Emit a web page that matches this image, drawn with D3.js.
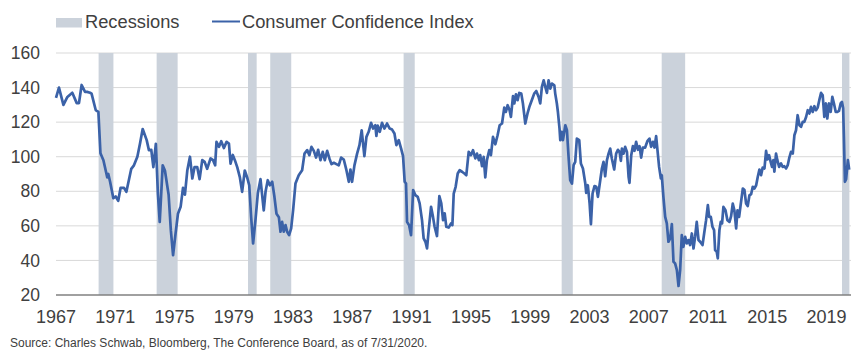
<!DOCTYPE html>
<html>
<head>
<meta charset="utf-8">
<script src="https://cdn.jsdelivr.net/npm/d3@7"></script>
<style>
  body { margin: 0; background: #fff; }
  text { font-family: "Liberation Sans", Arial, sans-serif; fill: #404040; }
</style>
</head>
<body>
<div id="chart"></div>
<script>
// settings
var svgWidth = 865;
var svgHeight = 363;
var lineColor = "#3b62a8";
var bandColor = "#cbd2db";
var gridColor = "#d9d9d9";

var margin = { top: 53, right: 14, bottom: 68, left: 56 };

// tick labels
var yTicks = [20, 40, 60, 80, 100, 120, 140, 160];
var xTicks = [1967, 1971, 1975, 1979, 1983, 1987, 1991, 1995, 1999, 2003, 2007, 2011, 2015, 2019];

// recessions, as [year, month] start and end
var recessionStarts = [[1969, 12], [1973, 11], [1980, 1], [1981, 7], [1990, 7], [2001, 3], [2007, 12], [2020, 2]];
var recessionEnds = [[1970, 11], [1975, 3], [1980, 7], [1982, 11], [1991, 3], [2001, 11], [2009, 6], [2020, 7]];

// consumer confidence index (decimal year, value)
var cciYears1 = [1967.0, 1967.2, 1967.5, 1967.77, 1968.1, 1968.4, 1968.55, 1968.73, 1968.96, 1969.1, 1969.3, 1969.4, 1969.68, 1969.86,
  1970.0, 1970.2, 1970.46, 1970.53, 1970.65, 1970.87, 1971.03, 1971.2, 1971.36, 1971.59, 1971.75, 1972.08, 1972.26, 1972.49,
  1972.67, 1972.85, 1973.12, 1973.27, 1973.43, 1973.57, 1973.74, 1973.88, 1974.0, 1974.2, 1974.35, 1974.6, 1974.75, 1974.9,
  1975.07, 1975.23, 1975.41, 1975.57, 1975.7, 1975.86, 1976.04, 1976.2, 1976.35, 1976.53, 1976.69, 1976.87, 1977.03, 1977.2,
  1977.43, 1977.6, 1977.74];
var cciValues1 = [134, 140, 130, 134.6, 137, 131, 131, 141.5, 137.5, 137.5, 137, 136.5, 127, 126,
  102, 98, 88, 90, 85.5, 76, 77, 74.5, 82, 82, 79.7, 93, 95, 100,
  107.6, 116, 109.6, 103.8, 104, 94, 107.5, 78, 62.3, 95, 92, 78, 57.5, 43,
  55.6, 67, 71, 82, 78, 92, 100, 87.4, 94, 94, 87, 98, 97, 93,
  99, 98, 95];

var cciYears2 = [1977.83, 1978.0, 1978.15, 1978.33, 1978.51, 1978.67, 1978.78, 1978.93, 1979.07, 1979.23, 1979.41, 1979.56, 1979.74,
  1979.9, 1980.04, 1980.17, 1980.3, 1980.46, 1980.62, 1980.8, 1981.02, 1981.14, 1981.29, 1981.43, 1981.59, 1981.74, 1981.88,
  1982.04, 1982.15, 1982.26, 1982.37, 1982.49, 1982.6, 1982.73, 1982.87, 1983.0, 1983.16, 1983.38, 1983.61, 1983.77, 1983.95,
  1984.1, 1984.24, 1984.4, 1984.55, 1984.69, 1984.85, 1985.0, 1985.14, 1985.3, 1985.45, 1985.59, 1985.75, 1985.92, 1986.08,
  1986.24, 1986.42, 1986.6, 1986.76, 1986.87, 1986.98, 1987.14, 1987.32, 1987.48, 1987.63, 1987.81, 1987.95, 1988.1, 1988.26,
  1988.4, 1988.55, 1988.62, 1988.71];
var cciValues2 = [108.6, 105.7, 109, 105, 108.6, 107.6, 96, 101, 98, 94, 88, 79.7, 92,
  88, 83.5, 65, 49.8, 63.3, 78.8, 87, 69, 79.7, 86.4, 83.5, 85.5, 76.8, 67,
  65, 56.6, 62.3, 56.6, 60.4, 56.6, 54.6, 58.5, 69, 84.5, 89.3, 92.2, 101.8, 103.8,
  100.9, 105.7, 103.4, 99.5, 104, 98, 102.8, 98, 103.4, 99, 95.7, 96.5, 95.7, 95,
  99.5, 98.4, 92.2, 85.5, 92.6, 85.5, 95, 101.8, 106.7, 115.3, 100.3, 111.5, 114.4, 119.6,
  116.3, 118.2, 112, 118];

var cciYears3 = [1988.85, 1989.0, 1989.16, 1989.34, 1989.52, 1989.68, 1989.84, 1989.97, 1990.13, 1990.29, 1990.42, 1990.53, 1990.62,
  1990.69, 1990.83, 1990.96, 1991.1, 1991.25, 1991.41, 1991.54, 1991.7, 1991.81, 1991.93, 1992.04, 1992.15, 1992.31, 1992.44,
  1992.55, 1992.71, 1992.87, 1993.0, 1993.12, 1993.23, 1993.34, 1993.5, 1993.66, 1993.75, 1993.84, 1993.97, 1994.11, 1994.24,
  1994.4, 1994.56, 1994.69, 1994.85, 1995.0, 1995.14, 1995.3, 1995.41, 1995.54, 1995.63, 1995.75, 1995.86, 1995.97, 1996.08,
  1996.24, 1996.35, 1996.49, 1996.65, 1996.8, 1996.94, 1997.1, 1997.25, 1997.36, 1997.48, 1997.61, 1997.7, 1997.84, 1997.93,
  1998.04, 1998.15, 1998.26, 1998.4, 1998.51, 1998.67, 1998.83, 1998.96, 1999.12, 1999.27, 1999.41];
var cciValues3 = [114.4, 119.6, 116.3, 119.2, 116.3, 115.7, 113.4, 106.7, 109.6, 104.7, 100.3, 85.5, 84.5,
  62.3, 60.4, 54.6, 80.7, 77.8, 76.8, 73, 63.3, 52.7, 50.8, 47, 57.5, 71, 65.2,
  59.5, 54.1, 77.2, 73, 63.3, 67.2, 59.5, 59, 61.4, 60.4, 78.7, 82.6, 90.3, 92.2,
  91.3, 90.3, 89.3, 102.8, 100.9, 103.8, 99, 101.8, 98, 100.9, 94.5, 99.9, 88, 98,
  103.8, 100.9, 111.5, 107.2, 112.4, 118.2, 119.2, 128.4, 125.9, 129.8, 126.9, 123, 135, 130.8,
  136.1, 132.7, 136.9, 136.5, 130.8, 119.2, 125.4, 129.2, 133, 136.5, 138];

var cciYears4 = [1999.57, 1999.68, 1999.79, 1999.91, 2000.02, 2000.13, 2000.24, 2000.36, 2000.47, 2000.63, 2000.69, 2000.8, 2000.87,
  2000.98, 2001.03, 2001.14, 2001.21, 2001.37, 2001.48, 2001.59, 2001.7, 2001.82, 2001.93, 2002.04, 2002.15, 2002.31, 2002.42,
  2002.56, 2002.72, 2002.78, 2002.89, 2003.01, 2003.1, 2003.21, 2003.34, 2003.46, 2003.57, 2003.68, 2003.84, 2003.95, 2004.06,
  2004.18, 2004.29, 2004.4, 2004.51, 2004.67, 2004.8, 2004.92, 2005.03, 2005.12, 2005.19, 2005.3, 2005.41, 2005.53, 2005.64,
  2005.7, 2005.82, 2005.93, 2006.04, 2006.15, 2006.27, 2006.38, 2006.49, 2006.6, 2006.76, 2006.92, 2007.05, 2007.16, 2007.28,
  2007.39, 2007.5, 2007.59, 2007.7, 2007.82, 2007.88, 2007.99, 2008.11, 2008.22, 2008.33, 2008.45, 2008.56, 2008.67, 2008.78,
  2008.9, 2009.01, 2009.12, 2009.23, 2009.34, 2009.46, 2009.57, 2009.68, 2009.79, 2009.91, 2010.02];
var cciValues4 = [134.6, 130.8, 140.4, 144.2, 140.4, 136.9, 144.2, 139.4, 142.3, 141.3, 136.5, 130.8, 126,
  116.3, 109.6, 114.4, 109.6, 118.2, 115.3, 99.9, 86.4, 84.5, 95.1, 97, 110.5, 109.6, 96.1,
  93.2, 84.5, 79.1, 83.5, 73, 61, 78.7, 83, 82.6, 76.8, 83.5, 93.2, 97, 88.7,
  98, 101.8, 104.7, 99, 92.6, 101.8, 104, 102.8, 97.6, 104.7, 101.8, 105.7, 102.8, 88.4,
  84.9, 100.9, 106.1, 103.4, 108.6, 104, 106.1, 99.5, 105.3, 105.3, 109.2, 110.5, 105.7, 108.6,
  105.3, 111.9, 103.8, 94.1, 87.4, 89.3, 76.8, 65.2, 61.4, 50.8, 52.7, 61, 39.2, 38.3,
  34.4, 25.2, 34.4, 54.6, 47.9, 53.7, 49.8, 51.8, 48.9, 55.6, 46.9];

var cciYears5 = [2010.13, 2010.24, 2010.36, 2010.47, 2010.63, 2010.74, 2010.87, 2010.99, 2011.08, 2011.19, 2011.3, 2011.41, 2011.48,
  2011.59, 2011.66, 2011.77, 2011.86, 2011.95, 2012.04, 2012.18, 2012.31, 2012.45, 2012.56, 2012.67, 2012.78, 2012.9, 2012.99,
  2013.1, 2013.23, 2013.35, 2013.46, 2013.57, 2013.68, 2013.8, 2013.91, 2014.02, 2014.13, 2014.25, 2014.36, 2014.47, 2014.58,
  2014.69, 2014.81, 2014.92, 2015.01, 2015.12, 2015.23, 2015.32, 2015.41, 2015.48, 2015.59, 2015.68, 2015.8, 2015.93, 2016.04,
  2016.15, 2016.27, 2016.38, 2016.49, 2016.6, 2016.72, 2016.83, 2016.94, 2017.05, 2017.17, 2017.28, 2017.39, 2017.5, 2017.62,
  2017.73, 2017.84, 2017.95, 2018.07, 2018.18, 2018.29, 2018.4, 2018.51, 2018.63, 2018.74, 2018.85, 2018.96, 2019.05, 2019.17,
  2019.28, 2019.39, 2019.5, 2019.62, 2019.73, 2019.84, 2019.95, 2020.04, 2020.12, 2020.17, 2020.24, 2020.32, 2020.44, 2020.53];
var cciValues5 = [53.7, 62.3, 51.8, 50.8, 48.9, 55.6, 63.3, 72, 65.2, 65.2, 59.5, 57.5, 46,
  45, 41.2, 57.5, 62.3, 61.4, 71, 69, 63.3, 62.3, 65.6, 72.9, 69, 58.5, 69,
  65.2, 73.9, 81.6, 80.7, 72.9, 71.4, 77.8, 78.3, 82.6, 81.6, 83.5, 88.4, 92.6, 89.3,
  93.7, 93.2, 103.4, 98.4, 100.9, 97, 94.1, 98, 91.3, 101.8, 98, 94.1, 96.1, 94.1,
  94.5, 93.2, 95.1, 99.5, 102.8, 101.8, 112.4, 115.3, 124, 118.2, 117.3, 120.2, 120.2, 123,
  126.9, 125, 128.8, 125.9, 129.2, 126.9, 128.4, 132.7, 136.9, 135.5, 123, 130.8, 122.1, 130.8,
  125.9, 134.6, 130.8, 125.9, 125.9, 126.5, 130.8, 131.7, 128, 111.5, 85.5, 87, 98, 92.5];

// build the series
var cciYears = cciYears1.concat(cciYears2, cciYears3, cciYears4, cciYears5);
var cciValues = cciValues1.concat(cciValues2, cciValues3, cciValues4, cciValues5);
var cciData = cciYears.map((t, i) => ({ t: t, v: cciValues[i] }));

var width = svgWidth - margin.right;
var height = svgHeight - margin.bottom;

var svg = d3.select("#chart")
  .append("svg")
  .attr("width", svgWidth)
  .attr("height", svgHeight);

var xScale = d3.scaleLinear()
  .domain([1967, 2020.65])
  .range([margin.left, width]);

var yScale = d3.scaleLinear()
  .domain([20, 160])
  .range([height, margin.top]);

// gridlines
svg.append("g")
  .selectAll("line")
  .data(yTicks.filter(d => d > 20))
  .enter()
  .append("line")
  .attr("x1", margin.left)
  .attr("x2", width)
  .attr("y1", d => yScale(d))
  .attr("y2", d => yScale(d))
  .attr("stroke", gridColor)
  .attr("stroke-width", 1);

// recession bands
var ym = d => d[0] + (d[1] - 1) / 12;
svg.append("g")
  .selectAll("rect")
  .data(recessionStarts.map((s, i) => [ym(s) - 1 / 24, Math.min(ym(recessionEnds[i]) + 1 / 24, 2020.65)]))
  .enter()
  .append("rect")
  .attr("x", d => xScale(d[0]))
  .attr("width", d => xScale(d[1]) - xScale(d[0]))
  .attr("y", yScale(160))
  .attr("height", yScale(20) - yScale(160))
  .attr("fill", bandColor);

// x axis line
svg.append("line")
  .attr("x1", margin.left)
  .attr("x2", width)
  .attr("y1", yScale(20))
  .attr("y2", yScale(20))
  .attr("stroke", "#808080")
  .attr("stroke-width", 1.5);

// y tick labels
svg.append("g")
  .selectAll("text")
  .data(yTicks)
  .enter()
  .append("text")
  .attr("x", 40)
  .attr("y", d => yScale(d))
  .attr("dy", "0.35em")
  .attr("text-anchor", "end")
  .attr("font-size", "17.5px")
  .text(d => d);

// x tick labels
svg.append("g")
  .selectAll("text")
  .data(xTicks)
  .enter()
  .append("text")
  .attr("x", d => xScale(d))
  .attr("y", 323)
  .attr("text-anchor", "middle")
  .attr("font-size", "18px")
  .text(d => d);

// the line
var line = d3.line()
  .x(d => xScale(d.t))
  .y(d => yScale(d.v));

svg.append("path")
  .datum(cciData)
  .attr("d", line)
  .attr("fill", "none")
  .attr("stroke", lineColor)
  .attr("stroke-width", 2.7)
  .attr("stroke-linejoin", "round");

// legend
var legend = svg.append("g");
legend.append("rect")
  .attr("x", 56).attr("y", 18)
  .attr("width", 26).attr("height", 9.5)
  .attr("fill", bandColor);
legend.append("text")
  .attr("x", 85).attr("y", 27.5)
  .attr("font-size", "18.3px")
  .text("Recessions");
legend.append("line")
  .attr("x1", 212).attr("x2", 240)
  .attr("y1", 21.5).attr("y2", 21.5)
  .attr("stroke", lineColor)
  .attr("stroke-width", 2);
legend.append("text")
  .attr("x", 242).attr("y", 27.5)
  .attr("font-size", "18.3px")
  .text("Consumer Confidence Index");

// source note
svg.append("text")
  .attr("x", 10).attr("y", 347)
  .attr("font-size", "12px")
  .text("Source: Charles Schwab, Bloomberg, The Conference Board, as of 7/31/2020.");
</script>
</body>
</html>
